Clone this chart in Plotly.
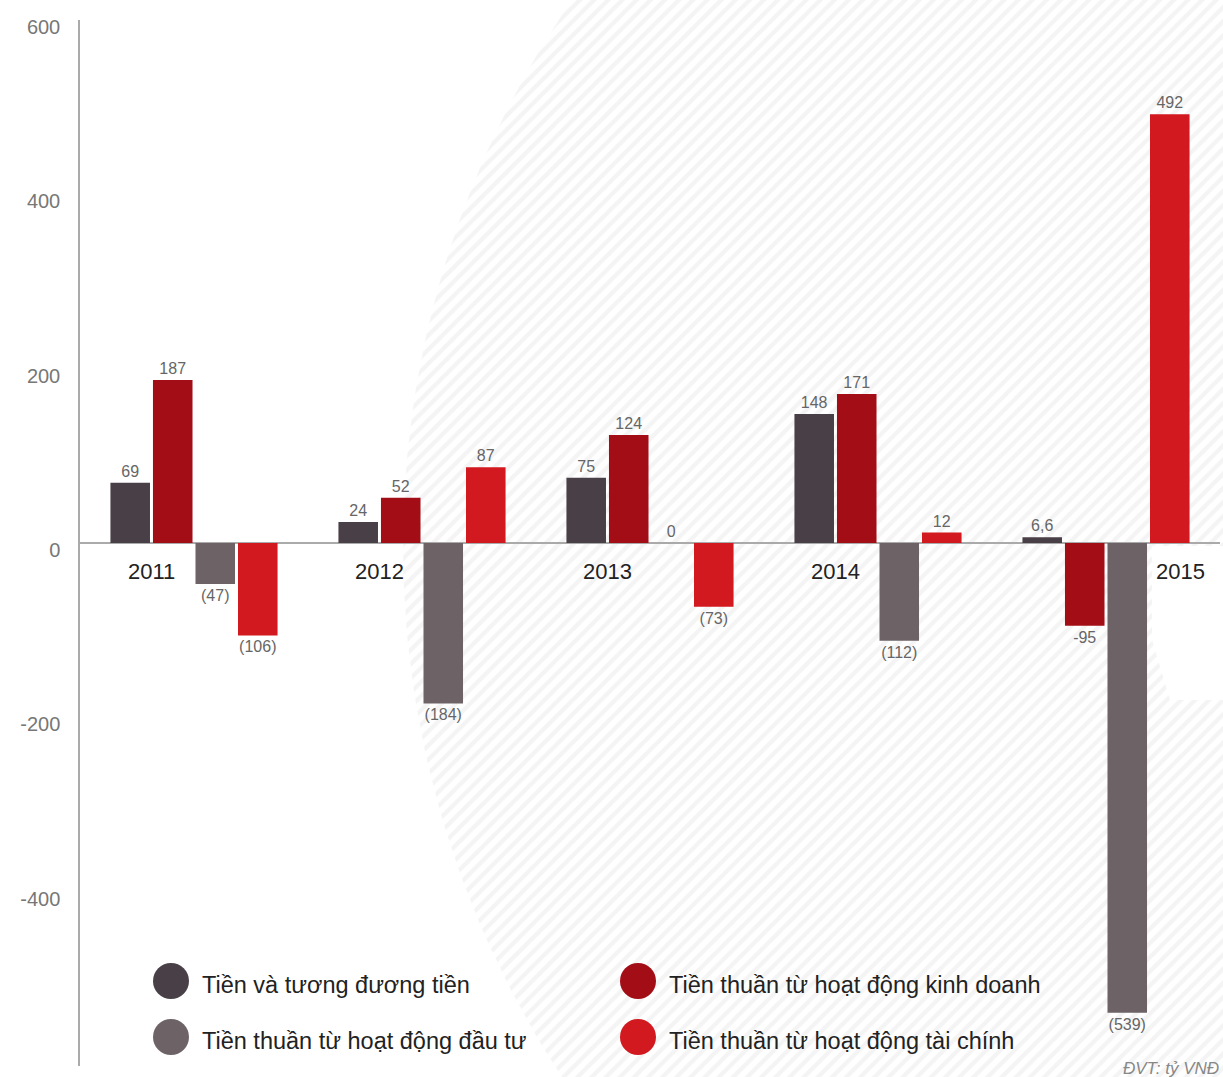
import numpy as np
import plotly.graph_objects as go

# ---------------- data ----------------
years = ["2011", "2012", "2013", "2014", "2015"]
series_names = [
    "Tiền và tương đương tiền",
    "Tiền thuần từ hoạt động kinh doanh",
    "Tiền thuần từ hoạt động đầu tư",
    "Tiền thuần từ hoạt động tài chính",
]
cash_equiv = [69, 24, 75, 148, 6.6]
operating = [187, 52, 124, 171, -95]
investing = [-47, -184, 0, -112, -539]
financing = [-106, 87, -73, 12, 492]

cash_equiv_lbl = ["69", "24", "75", "148", "6,6"]
operating_lbl = ["187", "52", "124", "171", "-95"]
investing_lbl = ["(47)", "(184)", "0", "(112)", "(539)"]
financing_lbl = ["(106)", "87", "(73)", "12", "492"]

y_ticks = [-400, -200, 0, 200, 400, 600]
y_tick_text = ["-400", "-200", "0", "200", "400", "600"]
unit_note = "ĐVT: tỷ VNĐ"

# ---------------- style ----------------
W, H = 1223, 1077
FONT = "Liberation Sans, Arial, sans-serif"
colors = ["#493f46", "#a30d16", "#6d6367", "#d1191f"]

fig = go.Figure()

# background hatched circle (pixel coordinate axes x/y)
t = np.linspace(0, 2 * np.pi, 400)
cx, cy, r = 1370, 546, 967
fig.add_trace(go.Scatter(
    x=cx + r * np.cos(t), y=cy + r * np.sin(t),
    mode="lines", line=dict(width=0), fill="toself",
    fillcolor="rgba(0,0,0,0)",
    fillpattern=dict(shape="/", fgcolor="#e9e9e9", bgcolor="white",
                     size=10, solidity=0.42),
    hoverinfo="skip", showlegend=False, xaxis="x", yaxis="y",
))
# white patch behind the 2015 label
fig.add_trace(go.Scatter(
    x=[1152, 1223, 1223, 1170, 1152], y=[546, 546, 700, 700, 640],
    mode="lines", line=dict(width=0), fill="toself", fillcolor="white",
    hoverinfo="skip", showlegend=False, xaxis="x", yaxis="y",
))

vals = [cash_equiv, operating, investing, financing]
lbls = [cash_equiv_lbl, operating_lbl, investing_lbl, financing_lbl]
for name, v, lb, c in zip(series_names, vals, lbls, colors):
    fig.add_trace(go.Bar(
        x=years, y=v, name=name, marker=dict(color=c, line=dict(width=0)),
        text=lb, textposition="outside", texttemplate="%{text}",
        textfont=dict(size=16, color="#666666", family=FONT),
        cliponaxis=False, showlegend=False, xaxis="x2", yaxis="y2",
    ))

annotations = []
# year labels
shifts = [-43, -43, -43, -43, 74]
for i, (yr, s) in enumerate(zip(years, shifts)):
    annotations.append(dict(
        x=i, y=0, xref="x2", yref="y2", text=yr, showarrow=False,
        xshift=s, yshift=-28, font=dict(size=22, color="#222222", family=FONT),
    ))

# legend (custom, circles + text) in pixel coordinates
legend_pos = [(171, 981), (638, 981), (171, 1037), (638, 1037)]
shapes = []
for (lx, ly), name, c in zip(legend_pos, series_names, colors):
    shapes.append(dict(type="circle", xref="x", yref="y",
                       x0=lx - 18, x1=lx + 18, y0=ly - 18, y1=ly + 18,
                       fillcolor=c, line=dict(width=0)))
    annotations.append(dict(
        x=lx + 29, y=ly + 4, xref="x", yref="y", text=name, showarrow=False,
        xanchor="left", yanchor="middle",
        font=dict(size=23.5, color="#222222", family=FONT),
    ))

annotations.append(dict(
    x=1221, y=1068, xref="x", yref="y", text="<i>" + unit_note + "</i>",
    showarrow=False, xanchor="right", yanchor="middle",
    font=dict(size=17, color="#888888", family=FONT),
))

fig.update_layout(
    width=W, height=H,
    margin=dict(l=0, r=0, t=0, b=0, autoexpand=False),
    paper_bgcolor="white", plot_bgcolor="rgba(0,0,0,0)",
    barmode="group", bargap=0.254, bargroupgap=0.07,
    font=dict(family=FONT),
    xaxis=dict(domain=[0, 1], range=[0, W], visible=False, fixedrange=True),
    yaxis=dict(domain=[0, 1], range=[H, 0], visible=False, fixedrange=True),
    xaxis2=dict(domain=[80 / W, 1220 / W], anchor="y2", type="category",
                range=[-0.5, len(years) - 0.5], showticklabels=False,
                automargin=False,
                showgrid=False, showline=False, ticks="", zeroline=False),
    yaxis2=dict(domain=[11 / H, 1057 / H], anchor="x2", range=[-600, 600],
                tickvals=y_ticks, ticktext=y_tick_text, automargin=False,
                showgrid=False, showline=True,
                linecolor="#aaaaaa", linewidth=1.5, ticks="",
                zeroline=True, zerolinecolor="#aaaaaa", zerolinewidth=2,
                tickfont=dict(size=20, color="#777777", family=FONT),
                ticklabelstandoff=14, ticklabelshift=7),
    shapes=shapes, annotations=annotations,
    showlegend=False,
)

fig.write_html("out.html")
